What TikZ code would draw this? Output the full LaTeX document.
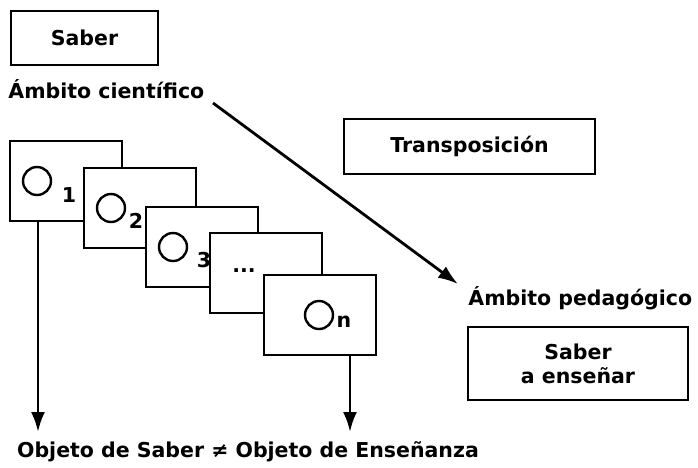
\documentclass[tikz,border=0pt]{standalone}
\usepackage{fontspec}
\setmainfont{DejaVu Sans}
\usetikzlibrary{positioning,arrows.meta}

\begin{document}
\begin{tikzpicture}[x=1pt, y=-1pt, line width=2.8pt, >={Latex[length=20pt,width=14pt]},
  txt/.style={inner sep=0pt, font=\fontsize{20.5}{24}\selectfont\bfseries},
  box/.style={rectangle, draw, fill=white, inner sep=0pt, align=center, font=\fontsize{20.5}{24}\selectfont\bfseries},
  card/.style={rectangle, draw, fill=white, minimum width=112pt, minimum height=80pt, inner sep=0pt},
  dot/.style={circle, draw, line width=2.4pt, minimum size=28pt, inner sep=0pt}]
  \useasboundingbox (0,0) rectangle (698,467);
  % ambito cientifico
  \node[box, minimum width=147pt, minimum height=54pt] (saber) at (84.5,38) {Saber};
  \node[txt, anchor=base west] (cient) at (7,98) {Ámbito científico};
  % ambito pedagogico
  \node[box, minimum width=251pt, minimum height=55pt] (trans) at (469.5,146.5) {Transposición};
  \node[txt, anchor=base west] (pedag) at (467,305) {Ámbito pedagógico};
  \node[box, minimum width=220pt, minimum height=73pt] (ensenar) at (578,363.5) {Saber\\a enseñar};
  % objetos
  \node[card] (c1) at (66,181) {};
  \node[dot] (o1) at (37,181) {};
  \node[txt] (n1) at (69,195) {1};
  \node[card] (c2) at (140,208) {};
  \node[dot] (o2) at (111,208) {};
  \node[txt] (n2) at (136,221) {2};
  \node[card] (c3) at (202,247) {};
  \node[dot] (o3) at (173,247) {};
  \node[txt] (n3) at (204,260) {3};
  \node[card] (c4) at (266,273) {};
  \node[txt] (n4) at (244,271) {...};
  \node[card] (cn) at (320,315) {};
  \node[dot] (on) at (319,315) {};
  \node[txt] (nn) at (344,322) {n};
  \node[txt, anchor=base] (obj) at (248,457) {Objeto de Saber ≠ Objeto de Enseñanza};
  % flechas
  \coordinate (t0) at (213,103);
  \coordinate (t1) at (458,284);
  \coordinate (e1) at (38,432);
  \coordinate (en) at (350,432);
  \draw[->] (t0) -- (t1);
  \draw[->] (c1.south -| e1) -- (e1);
  \draw[->] (cn.south -| en) -- (en);
\end{tikzpicture}
\end{document}
